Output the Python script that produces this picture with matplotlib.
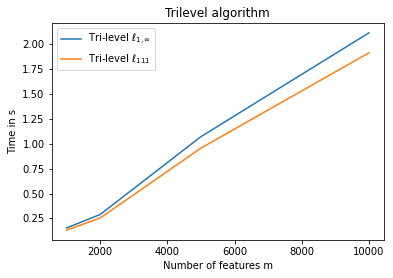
import numpy as np
import matplotlib
matplotlib.use('Agg')
import matplotlib.pyplot as plt

# Number of features and timings (s)
n_features = [1000, 2000, 5000, 10000]
time_l1inf = [0.155, 0.29, 1.07, 2.11]
time_l111 = [0.133, 0.255, 0.955, 1.91]

fig = plt.figure(figsize=(393 / 72, 278 / 72), dpi=72)
ax = fig.add_axes([51.5 / 393, 1 - 240 / 278, (384 - 51.5) / 393, (240 - 23) / 278])

ax.plot(n_features, time_l1inf, label=r'Tri-level $\ell_{1,\infty}$')
ax.plot(n_features, time_l111, label=r'Tri-level $\ell_{111}$')

ax.set_title('Trilevel algorithm')
ax.set_xlabel('Number of features m')
ax.set_ylabel('Time in s')
ax.legend()

fig.savefig('out.png', dpi=72)
